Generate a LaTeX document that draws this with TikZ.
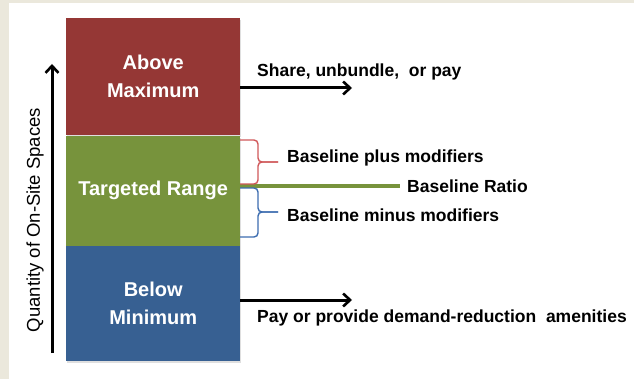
\documentclass[tikz,border=0pt]{standalone}
\usepackage{fontspec}
\setmainfont{Liberation Sans}
\usetikzlibrary{arrows.meta}
\usetikzlibrary{positioning}
\usetikzlibrary{shadows}

\definecolor{pageBeige}{HTML}{EBE8DC}
\definecolor{aboveRed}{HTML}{953735}
\definecolor{rangeGreen}{HTML}{77933C}
\definecolor{belowBlue}{HTML}{376092}
\definecolor{plusRed}{HTML}{D0585A}
\definecolor{minusBlue}{HTML}{3D6DB0}

\begin{document}
\begin{tikzpicture}[x = 1pt, y = -1pt]
	\tikzstyle{bandStyle} = [draw = none, minimum width = 174pt, inner sep = 0pt, text = white, align = center, font = \bfseries\fontsize{20}{28}\selectfont, drop shadow = {shadow xshift = 1pt, shadow yshift = -2pt, opacity = 0.25}]
	\tikzstyle{noteStyle} = [anchor = west, inner sep = 0pt, font = \bfseries\fontsize{17.5}{21}\selectfont]
	\tikzstyle{arrowStyle} = [-{Straight Barb[length = 7pt, width = 13pt, line width = 2.6pt]}, line width = 3pt]
	\tikzstyle{braceStyle} = [line width = 1.4pt, rounded corners = 4pt]
	% page
	\fill[pageBeige] (0,0) rectangle (634,379);
	\fill[white] (9,3) rectangle (634,379);
	% bands
	\node[bandStyle, fill = aboveRed, minimum height = 117pt, anchor = north west] (b0) at (66,18) {Above\\Maximum};
	\node[bandStyle, fill = rangeGreen, minimum height = 110pt, below = 0pt of b0] (b1) {Targeted Range};
	\node[bandStyle, fill = belowBlue, minimum height = 115pt, below = 0pt of b1] (b2) {Below\\Minimum};
	% axis
	\coordinate (q0) at (52,353);
	\coordinate (q1) at (52,64);
	\draw[arrowStyle] (q0) -- (q1);
	\node[rotate = 90, inner sep = 0pt, font = \fontsize{18.5}{22}\selectfont] (q) at (35,220) {Quantity of On-Site Spaces};
	% outcomes
	\coordinate (a0) at (352,88);
	\coordinate (a1) at (352,300);
	\draw[arrowStyle] (b0.east |- a0) -- (a0);
	\draw[arrowStyle] (b2.east |- a1) -- (a1);
	\node[noteStyle] (n0) at (257,72) {Share, unbundle,\ \ or pay};
	\node[noteStyle] (n1) at (257,318) {Pay or provide demand-reduction\ \ amenities};
	% ratio and modifiers
	\node[noteStyle] (r) at (407,186) {Baseline Ratio};
	\draw[rangeGreen, line width = 3.2pt] (b1.east |- r.west) -- ([xshift = -7pt]r.west);
	\node[noteStyle] (m0) at (287,158) {Baseline plus modifiers};
	\node[noteStyle] (m1) at (287,215) {Baseline minus modifiers};
	\draw[braceStyle, plusRed] (240,140) -- (258,140) -- (258,162) -- (278,162);
	\draw[braceStyle, plusRed] (278,162) -- (258,162) -- (258,184) -- (240,184);
	\draw[braceStyle, minusBlue] (240,188) -- (258,188) -- (258,212) -- (278,212);
	\draw[braceStyle, minusBlue] (278,212) -- (258,212) -- (258,237) -- (240,237);
\end{tikzpicture}
\end{document}
